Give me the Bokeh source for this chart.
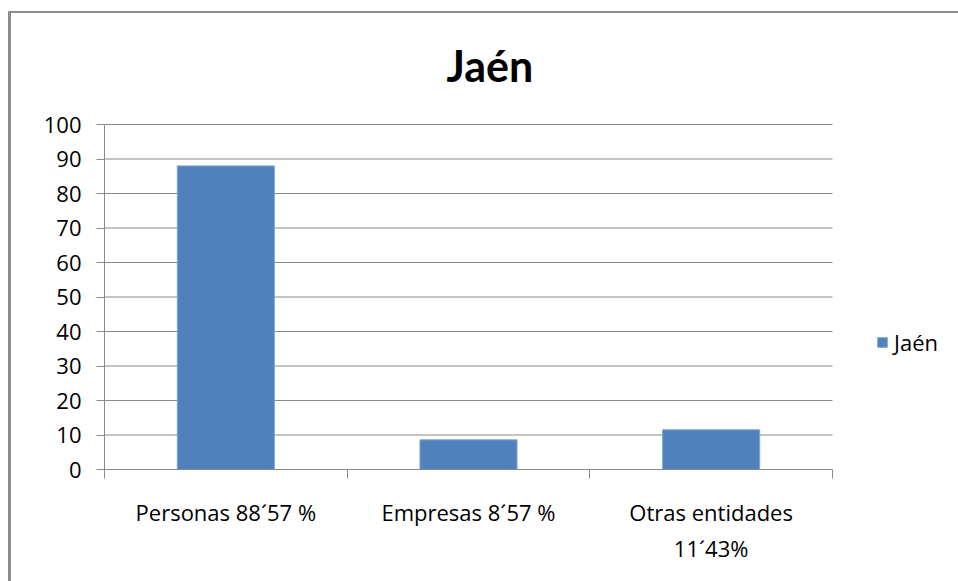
from bokeh.plotting import figure
from bokeh.models import (FixedTicker, Legend, LegendItem, ColumnDataSource, Range1d,
                          InlineStyleSheet)
from bokeh.embed import file_html
from bokeh.resources import INLINE

title_text = "Jaén"
series_name = "Jaén"
categories = ["Personas 88´57 %", "Empresas 8´57 %", "Otras entidades\n11´43%"]
values = [88.0, 8.6, 11.5]
y_ticks = [0, 10, 20, 30, 40, 50, 60, 70, 80, 90, 100]

FONT = "Open Sans"
TFONT = "Lato"
GRID = "#8a8a8a"
BAR = "#4F81BD"

n = len(categories)
xs = [i + 0.5 for i in range(n)]
src = ColumnDataSource(dict(x=xs, top=values))
grid_src = ColumnDataSource(dict(y=y_ticks[1:], x0=[0] * (len(y_ticks) - 1),
                                 x1=[n] * (len(y_ticks) - 1)))

W, H = 950, 573
fl, fr, ft, fb = 104, 950, 123, 469  # frame edges in canvas px
cat_px = (832 - fl) / n              # pixel width of one category
x_end = (fr - fl) / cat_px           # frame continues right to hold the legend
y_end = 100 + (124 - ft) * 100 / (fb - 124)

p = figure(width=W, height=H, output_backend="svg", toolbar_location=None,
           x_range=Range1d(0, x_end), y_range=Range1d(0, y_end),
           min_border_left=fl, min_border_right=W - fr,
           min_border_top=ft, min_border_bottom=H - fb,
           title=title_text)

p.stylesheets = [InlineStyleSheet(css="""
:host::after { content: ""; position: absolute; left: 8px; top: 11px; right: -20px; bottom: -20px;
  border-left: 3px solid #8c8c8c; border-top: 2px solid #8c8c8c; pointer-events: none; z-index: 5; }
""")]

p.title.text_font = TFONT
p.title.text_font_size = "43px"
p.title.text_font_style = "bold"
p.title.text_color = "#000000"
p.title.align = "left"
p.title.offset = 342
p.title.standoff = 66

p.segment(x0="x0", x1="x1", y0="y", y1="y", source=grid_src, line_color=GRID, line_width=1)
r = p.vbar(x="x", top="top", width=0.4, source=src, fill_color=BAR,
           line_color="#7fa3d0", line_width=1)

p.outline_line_color = None
p.background_fill_color = "white"
p.border_fill_color = "white"

# y axis
p.yaxis.ticker = FixedTicker(ticks=y_ticks)
p.yaxis.bounds = (0, 100)
p.yaxis.axis_line_color = GRID
p.yaxis.major_tick_line_color = GRID
p.yaxis.major_tick_out = 8
p.yaxis.major_tick_in = 0
p.yaxis.minor_tick_line_color = None
p.yaxis.major_label_text_font = FONT
p.yaxis.major_label_text_font_size = "22px"
p.yaxis.major_label_text_color = "#000000"
p.yaxis.major_label_standoff = 15

# x axis: labels at category centres, separators as minor ticks
p.xaxis.ticker = FixedTicker(ticks=xs, minor_ticks=list(range(n + 1)))
p.xaxis.bounds = (0, n)
p.xaxis.major_label_overrides = {x: c for x, c in zip(xs, categories)}
p.xaxis.axis_line_color = GRID
p.xaxis.major_tick_line_color = None
p.xaxis.major_tick_out = 0
p.xaxis.major_tick_in = 0
p.xaxis.minor_tick_line_color = GRID
p.xaxis.minor_tick_out = 9
p.xaxis.minor_tick_in = 0
p.xaxis.major_label_text_font = FONT
p.xaxis.major_label_text_font_size = "22px"
p.xaxis.major_label_text_color = "#000000"
p.xaxis.major_label_standoff = 18

p.xgrid.grid_line_color = None
p.ygrid.grid_line_color = None

legend = Legend(items=[LegendItem(label=series_name, renderers=[r])],
                location=(772, 112), orientation="vertical",
                glyph_width=12, glyph_height=12, label_standoff=6,
                padding=0, margin=0, border_line_color=None,
                background_fill_alpha=0,
                label_text_font=FONT, label_text_font_size="22px",
                label_text_color="#000000")
p.add_layout(legend, "center")

open("out.html", "w").write(file_html(p, INLINE))
